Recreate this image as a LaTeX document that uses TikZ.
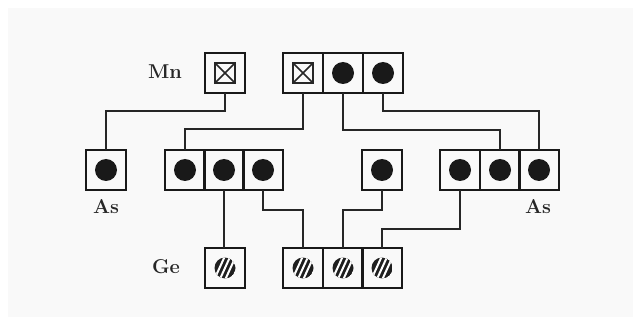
\documentclass[tikz,border=0pt]{standalone}
\usetikzlibrary{calc}
\begin{document}
\begin{tikzpicture}[x=1pt,y=-1pt,
  cell/.style={draw=black!90,line width=1.5pt,minimum width=40pt,minimum height=40pt,inner sep=0pt,outer sep=0pt},
  lbl/.style={font=\fontsize{20}{22}\selectfont\bfseries,text=black!85},
  wire/.style={draw=black!85,line width=1.4pt}]
\useasboundingbox (0,0) rectangle (643,326);
\fill[black!2.5] (8,8) rectangle (633,317);
% symbols
\newcommand{\crossbox}[1]{\draw[line width=1.6pt,black!85] ($(#1)+(-10,-10)$) rectangle ($(#1)+(10,10)$) ($(#1)+(-10,-10)$) -- ($(#1)+(10,10)$) ($(#1)+(-10,10)$) -- ($(#1)+(10,-10)$);}
\newcommand{\dotsym}[1]{\fill[black!90] (#1) circle (11);}
\newcommand{\hatchsym}[1]{\begin{scope}\clip (#1) circle (10.5);\fill[black!88] (#1) circle (10.5);
  \foreach \d in {-5.5,0,5.5}{\draw[white,line width=2pt] ($(#1)+(\d,0)+(-5,11)$) -- ($(#1)+(\d,0)+(5,-11)$);}\end{scope}}
% top row
\node[cell] (mn1) at (225,73) {};
\node[cell] (t1) at (303,73) {};
\node[cell] (t2) at (343,73) {};
\node[cell] (t3) at (383,73) {};
% middle row
\node[cell] (as1) at (106,170) {};
\node[cell] (m1) at (185,170) {};
\node[cell] (m2) at (224,170) {};
\node[cell] (m3) at (263,170) {};
\node[cell] (m4) at (382,170) {};
\node[cell] (m5) at (460,170) {};
\node[cell] (m6) at (500,170) {};
\node[cell] (m7) at (539,170) {};
% bottom row
\node[cell] (ge1) at (225,268) {};
\node[cell] (b1) at (303,268) {};
\node[cell] (b2) at (343,268) {};
\node[cell] (b3) at (382,268) {};
% labels
\node[lbl] (lmn) at (165,72) {Mn};
\node[lbl] (las1) at (106,207) {As};
\node[lbl] (las2) at (538,207) {As};
\node[lbl] (lge) at (166,267) {Ge};
% symbols
\crossbox{mn1}\crossbox{t1}
\dotsym{t2}\dotsym{t3}
\foreach \n in {as1,m1,m2,m3,m4,m5,m6,m7}{\dotsym{\n}}
\foreach \n in {ge1,b1,b2,b3}{\hatchsym{\n}}
% wires
\draw[wire] (mn1.south) |- (106,111) -- (as1.north);
\draw[wire] (t1.south) |- (185,129) -- (m1.north);
\draw[wire] (t2.south) |- (500,130) -- (m6.north);
\draw[wire] (t3.south) |- (539,111) -- (m7.north);
\draw[wire] (m2.south) -- (m2.south |- ge1.north);
\draw[wire] (m3.south) |- (303,210) -- (b1.north);
\draw[wire] (m4.south) |- (343,210) -- (b2.north);
\draw[wire] (m5.south) |- (382,229) -- (b3.north);
\end{tikzpicture}
\end{document}
